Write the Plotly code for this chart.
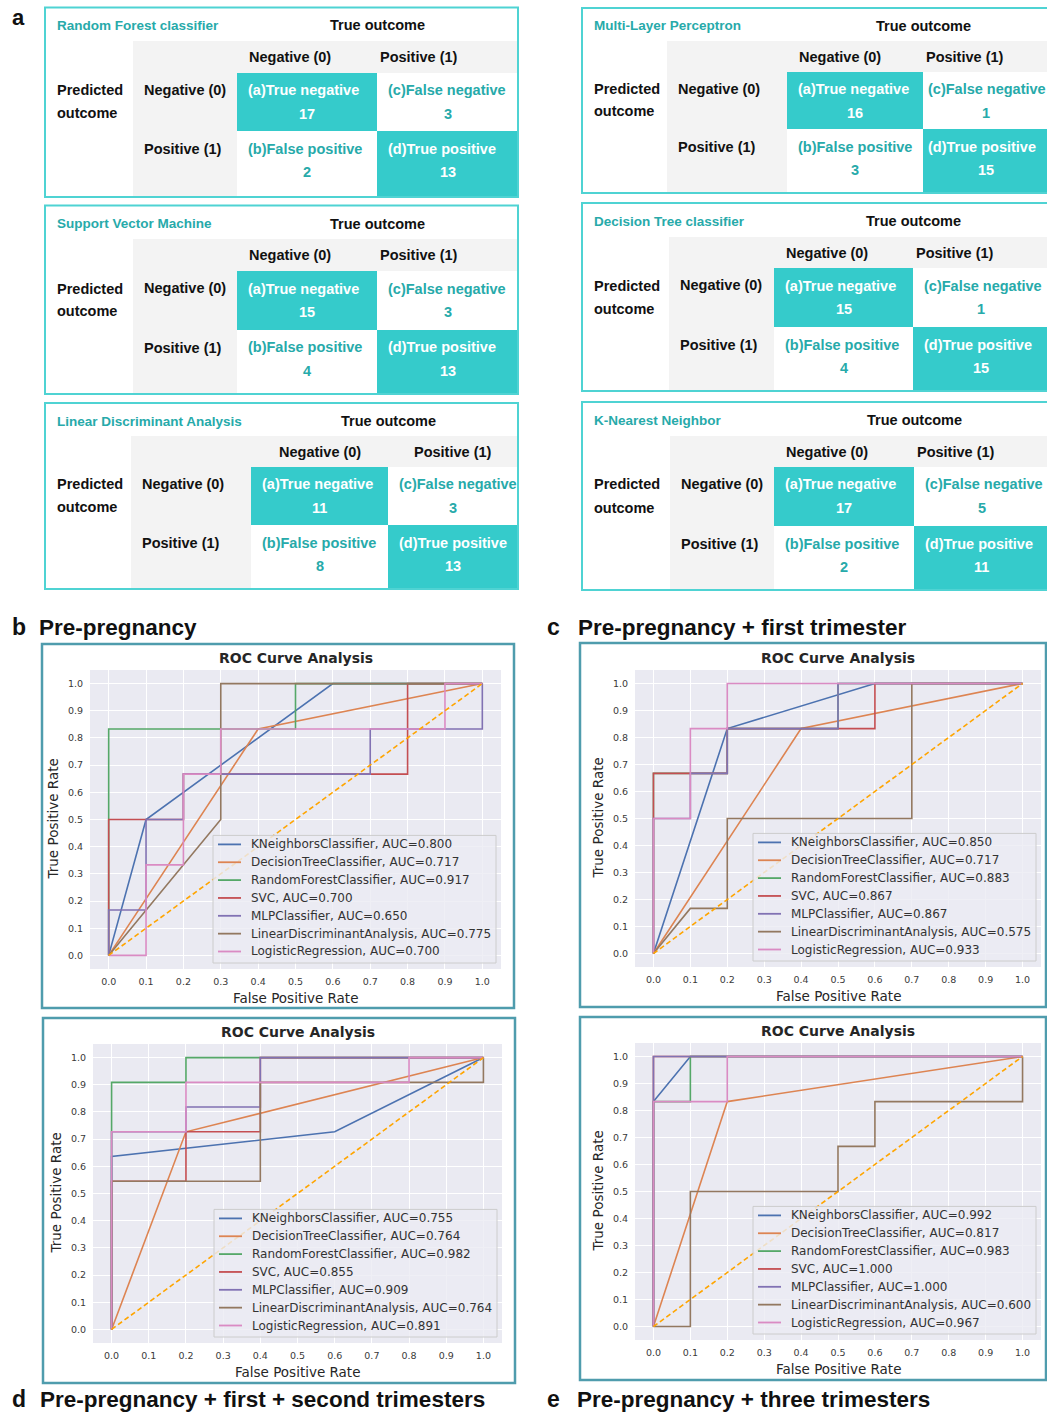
import plotly.graph_objects as go

W, H = 1047, 1414

# ---------------- confusion matrices (panel a) ----------------
cm_titles = ["Random Forest classifier", "Support Vector Machine", "Linear Discriminant Analysis",
             "Multi-Layer Perceptron", "Decision Tree classifier", "K-Nearest Neighbor"]
cm_tn = [17, 15, 11, 16, 15, 17]
cm_fn = [3, 3, 3, 1, 1, 5]
cm_fp = [2, 4, 8, 3, 4, 2]
cm_tp = [13, 13, 13, 15, 15, 11]
cell_labels = ["(a)True negative", "(c)False negative", "(b)False positive", "(d)True positive"]
class_labels = ["Negative (0)", "Positive (1)"]

# ---------------- ROC curves (panels b-e) ----------------
clf_names = ["KNeighborsClassifier", "DecisionTreeClassifier", "RandomForestClassifier", "SVC",
             "MLPClassifier", "LinearDiscriminantAnalysis", "LogisticRegression"]
clf_colors = ["#4c72b0", "#dd8452", "#55a868", "#c44e52", "#8172b3", "#937860", "#da8bc3"]
roc_ticks = [0.0, 0.1, 0.2, 0.3, 0.4, 0.5, 0.6, 0.7, 0.8, 0.9, 1.0]

panel_titles = ["Pre-pregnancy", "Pre-pregnancy + first trimester",
                "Pre-pregnancy + first + second trimesters", "Pre-pregnancy + three trimesters"]
panel_letters = ["b", "c", "d", "e"]

auc_b = [0.800, 0.717, 0.917, 0.700, 0.650, 0.775, 0.700]
fpr_b = [[0, 0.1, 0.6, 1],
         [0, 0.4, 1],
         [0, 0, 0.5, 0.5, 1],
         [0, 0, 0.2, 0.2, 0.8, 0.8, 1],
         [0, 0, 0.1, 0.1, 0.2, 0.2, 0.7, 0.7, 1, 1],
         [0, 0.2, 0.3, 0.3, 1],
         [0, 0.1, 0.1, 0.2, 0.2, 0.3, 0.3, 0.9, 0.9, 1]]
tpr_b = [[0, 0.5, 1, 1],
         [0, 0.833, 1],
         [0, 0.833, 0.833, 1, 1],
         [0, 0.5, 0.5, 0.667, 0.667, 1, 1],
         [0, 0.167, 0.167, 0.5, 0.5, 0.667, 0.667, 0.833, 0.833, 1],
         [0, 0.333, 0.5, 1, 1],
         [0, 0, 0.333, 0.333, 0.667, 0.667, 0.833, 0.833, 1, 1]]

auc_c = [0.850, 0.717, 0.883, 0.867, 0.867, 0.575, 0.933]
fpr_c = [[0, 0.2, 0.6, 1],
         [0, 0.4, 1],
         [0, 0, 0.2, 0.2, 0.5, 0.5, 1],
         [0, 0, 0.2, 0.2, 0.6, 0.6, 1],
         [0, 0, 0.1, 0.1, 0.2, 0.2, 0.5, 0.5, 1],
         [0, 0.1, 0.2, 0.2, 0.7, 0.7, 1],
         [0, 0, 0.1, 0.1, 0.2, 0.2, 1]]
tpr_c = [[0, 0.833, 1, 1],
         [0, 0.833, 1],
         [0, 0.667, 0.667, 0.833, 0.833, 1, 1],
         [0, 0.667, 0.667, 0.833, 0.833, 1, 1],
         [0, 0.5, 0.5, 0.667, 0.667, 0.833, 0.833, 1, 1],
         [0, 0.167, 0.167, 0.5, 0.5, 1, 1],
         [0, 0.5, 0.5, 0.833, 0.833, 1, 1]]

auc_d = [0.755, 0.764, 0.982, 0.855, 0.909, 0.764, 0.891]
fpr_d = [[0, 0, 0.6, 1],
         [0, 0.2, 1],
         [0, 0, 0.2, 0.2, 1],
         [0, 0, 0.2, 0.2, 0.4, 0.4, 1],
         [0, 0, 0.2, 0.2, 0.4, 0.4, 1],
         [0, 0, 0.4, 0.4, 1, 1],
         [0, 0, 0.2, 0.2, 0.8, 0.8, 1]]
tpr_d = [[0, 0.636, 0.727, 1],
         [0, 0.727, 1],
         [0, 0.909, 0.909, 1, 1],
         [0, 0.545, 0.545, 0.727, 0.727, 1, 1],
         [0, 0.727, 0.727, 0.818, 0.818, 1, 1],
         [0, 0.545, 0.545, 0.909, 0.909, 1],
         [0, 0.727, 0.727, 0.909, 0.909, 1, 1]]

auc_e = [0.992, 0.817, 0.983, 1.000, 1.000, 0.600, 0.967]
fpr_e = [[0, 0, 0.1, 1],
         [0, 0.2, 1],
         [0, 0, 0.1, 0.1, 1],
         [0, 0, 1],
         [0, 0, 1],
         [0, 0.1, 0.1, 0.5, 0.5, 0.6, 0.6, 1, 1],
         [0, 0, 0.2, 0.2, 1]]
tpr_e = [[0, 0.833, 1, 1],
         [0, 0.833, 1],
         [0, 0.833, 0.833, 1, 1],
         [0, 1, 1],
         [0, 1, 1],
         [0, 0, 0.5, 0.5, 0.667, 0.667, 0.833, 0.833, 1],
         [0, 0.833, 0.833, 1, 1]]

chance_line = [0, 1]

# ---------------- styling ----------------
TEAL = "#35cbcb"
TEAL_TEXT = "#27aaaa"
TABLE_BORDER = "#4fd3d3"
GREY = "#f3f3f3"
TABLE_FONT = "Liberation Sans, Arial, sans-serif"
PLOT_FONT = "DejaVu Sans, sans-serif"
BOX_COLOR = "#4f9cad"
TXT = "#262626"


def px(x):
    return x / W


def py(y):
    return 1 - y / H


shapes = []
annotations = []


def rect(x0, y0, x1, y1, fill="rgba(0,0,0,0)", line="rgba(0,0,0,0)", lw=0, layer="below"):
    shapes.append(dict(type="rect", xref="paper", yref="paper",
                       x0=px(x0), x1=px(x1), y0=py(y1), y1=py(y0),
                       fillcolor=fill, line=dict(color=line, width=lw), layer=layer))


def segment(x0, y, x1, color, lw):
    shapes.append(dict(type="line", xref="paper", yref="paper",
                       x0=px(x0), x1=px(x1), y0=py(y), y1=py(y),
                       line=dict(color=color, width=lw), layer="above"))


def label(x, y, s, size, color, bold=False, anchor="left", family=TABLE_FONT, angle=0, vanchor="middle"):
    annotations.append(dict(xref="paper", yref="paper", x=px(x), y=py(y),
                            text=f"<b>{s}</b>" if bold else s, showarrow=False,
                            xanchor=anchor, yanchor=vanchor, textangle=angle,
                            font=dict(size=size, color=color, family=family)))


# table geometry: box (l, t, r, b), grey origin, header bottom, column starts, first row bottom, centred headers
cm_geom = [
    (45, 7.5, 518, 197, 133, 41, 73, 237, 377, 131, False),
    (45, 205.5, 518, 394, 133, 239, 271, 237, 377, 330, False),
    (45, 403, 518, 589, 131, 436, 467, 251, 388, 525, True),
    (582, 8, 1049, 193, 667, 41, 72, 787, 923, 129, False),
    (582, 203, 1049, 391, 669, 237, 268, 774, 913, 327, False),
    (582, 402, 1049, 590, 670, 436, 467, 774, 914, 526, False),
]

label(10, 18, "a", 22, "#111", bold=True)

for k, (l, t, r, b, gx, gy, hb, c1, c2, r1, centred) in enumerate(cm_geom):
    # grey header band and row-label column
    rect(gx, gy, r, hb, fill=GREY)
    rect(gx, hb, c1, b, fill=GREY)
    # true-negative / true-positive cells
    rect(c1, hb, c2, r1, fill=TEAL)
    rect(c2, r1, r, b, fill=TEAL)
    # outer frame
    rect(l, t, r, b, line=TABLE_BORDER, lw=2, layer="above")

    label(l + 10, t + 18, cm_titles[k], 13.5, TEAL_TEXT, bold=True)
    label(c2, t + 18, "True outcome", 14.5, "#111", bold=True, anchor="center")
    hy = (gy + hb) / 2
    if centred:
        label((c1 + c2) / 2, hy, class_labels[0], 14.5, "#111", bold=True, anchor="center")
        label((c2 + r) / 2, hy, class_labels[1], 14.5, "#111", bold=True, anchor="center")
    else:
        label(c1 + 10, hy, class_labels[0], 14.5, "#111", bold=True)
        label(c2 + 1, hy, class_labels[1], 14.5, "#111", bold=True)
    mid1 = (hb + r1) / 2
    label(l + 10, mid1 - 12, "Predicted", 14.5, "#111", bold=True)
    label(l + 10, mid1 + 11, "outcome", 14.5, "#111", bold=True)
    label(gx + 9, hb + 17, class_labels[0], 14.5, "#111", bold=True)
    label(gx + 9, r1 + 18, class_labels[1], 14.5, "#111", bold=True)

    pad2 = 9 if (r - c2) >= 130 else 3  # narrow right column: keep label inside the page
    cells = [
        (c1, c2, hb, 9, cell_labels[0], cm_tn[k], "white"),
        (c2, r, hb, pad2, cell_labels[1], cm_fn[k], TEAL_TEXT),
        (c1, c2, r1, 9, cell_labels[2], cm_fp[k], TEAL_TEXT),
        (c2, r, r1, pad2, cell_labels[3], cm_tp[k], "white"),
    ]
    for x0, x1, y0, pad, name, val, col in cells:
        label(x0 + pad, y0 + 17.5, name, 14.5, col, bold=True)
        label((x0 + x1) / 2, y0 + 41, str(val), 14.5, col, bold=True, anchor="center")

# ---------------- ROC panels ----------------
roc_sets = [(fpr_b, tpr_b, auc_b), (fpr_c, tpr_c, auc_c), (fpr_d, tpr_d, auc_d), (fpr_e, tpr_e, auc_e)]
# plot areas: left, right, top, bottom (px)
roc_areas = [(90, 501, 670, 969), (635, 1041, 670, 967), (93, 502, 1044, 1343), (635, 1041, 1043, 1340)]
roc_frames = [(42, 644, 514, 1008), (580, 643, 1046, 1007), (43, 1018, 515, 1383), (580, 1017, 1046, 1380)]

fig = go.Figure()
layout_axes = {}

for i, ((fprs, tprs, aucs), (x0, x1, y0, y1)) in enumerate(zip(roc_sets, roc_areas)):
    n = i + 1
    xa = "x" if n == 1 else f"x{n}"
    ya = "y" if n == 1 else f"y{n}"
    for j, name in enumerate(clf_names):
        fig.add_trace(go.Scatter(
            x=fprs[j], y=tprs[j], mode="lines", xaxis=xa, yaxis=ya, showlegend=False,
            name=f"{name}, AUC={aucs[j]:.3f}",
            line=dict(color=clf_colors[j], width=1.6)))
    fig.add_trace(go.Scatter(
        x=chance_line, y=chance_line, mode="lines", xaxis=xa, yaxis=ya, showlegend=False,
        line=dict(color="#ffa500", width=1.6, dash="5px,3px")))

    axis_common = dict(range=[-0.05, 1.05], tickvals=roc_ticks,
                       ticktext=[f"{v:.1f}" for v in roc_ticks],
                       showgrid=True, gridcolor="white", gridwidth=1, zeroline=False,
                       showline=False, ticks="", fixedrange=True,
                       tickfont=dict(size=9.5, color="#3a3a3a", family=PLOT_FONT))
    layout_axes["xaxis" if n == 1 else f"xaxis{n}"] = dict(
        axis_common, domain=[px(x0), px(x1)], anchor=ya, ticklabelstandoff=5)
    layout_axes["yaxis" if n == 1 else f"yaxis{n}"] = dict(
        axis_common, domain=[py(y1), py(y0)], anchor=xa, ticklabelstandoff=6)

    # legend box in the lower-right corner of the axes
    lr, lb = x1 - 5, y1 - 6
    ll = lr - 283
    step = 17.85
    first = lb - 11.5 - step * (len(clf_names) - 1)
    rect(ll, first - 9, lr, lb, fill="rgba(236,236,243,0.82)", line="#cccccc", lw=1, layer="above")
    for j, name in enumerate(clf_names):
        yy = first + j * step
        segment(ll + 5, yy, ll + 28, clf_colors[j], 1.8)
        label(ll + 36, yy, f"{name}, AUC={aucs[j]:.3f}", 12, "#333333", family=PLOT_FONT)

    # titles
    cx = (x0 + x1) / 2
    label(cx, y0 - 12, "ROC Curve Analysis", 14, TXT, bold=True, anchor="center", family=PLOT_FONT)
    label(cx, y1 + 29, "False Positive Rate", 13.5, TXT, anchor="center", family=PLOT_FONT)
    label(x0 - 38, (y0 + y1) / 2, "True Positive Rate", 13.5, TXT, anchor="center",
          family=PLOT_FONT, angle=-90)

    fl, ft, fr, fb = roc_frames[i]
    rect(fl, ft, fr, fb, line=BOX_COLOR, lw=2.5, layer="above")

# panel headings
label(10, 627, panel_letters[0], 23, "#111", bold=True)
label(37, 627, panel_titles[0], 22.5, "#111", bold=True)
label(545, 627, panel_letters[1], 23, "#111", bold=True)
label(576, 627, panel_titles[1], 22.5, "#111", bold=True)
label(10, 1414, panel_letters[2], 23, "#111", bold=True, vanchor="bottom")
label(38, 1414, panel_titles[2], 22.5, "#111", bold=True, vanchor="bottom")
label(545, 1414, panel_letters[3], 23, "#111", bold=True, vanchor="bottom")
label(575, 1414, panel_titles[3], 22.5, "#111", bold=True, vanchor="bottom")

fig.update_layout(
    width=W, height=H, margin=dict(l=0, r=0, t=0, b=0),
    paper_bgcolor="white", plot_bgcolor="#eaeaf2", showlegend=False,
    shapes=shapes, annotations=annotations, **layout_axes)

fig.write_html("out.html")
